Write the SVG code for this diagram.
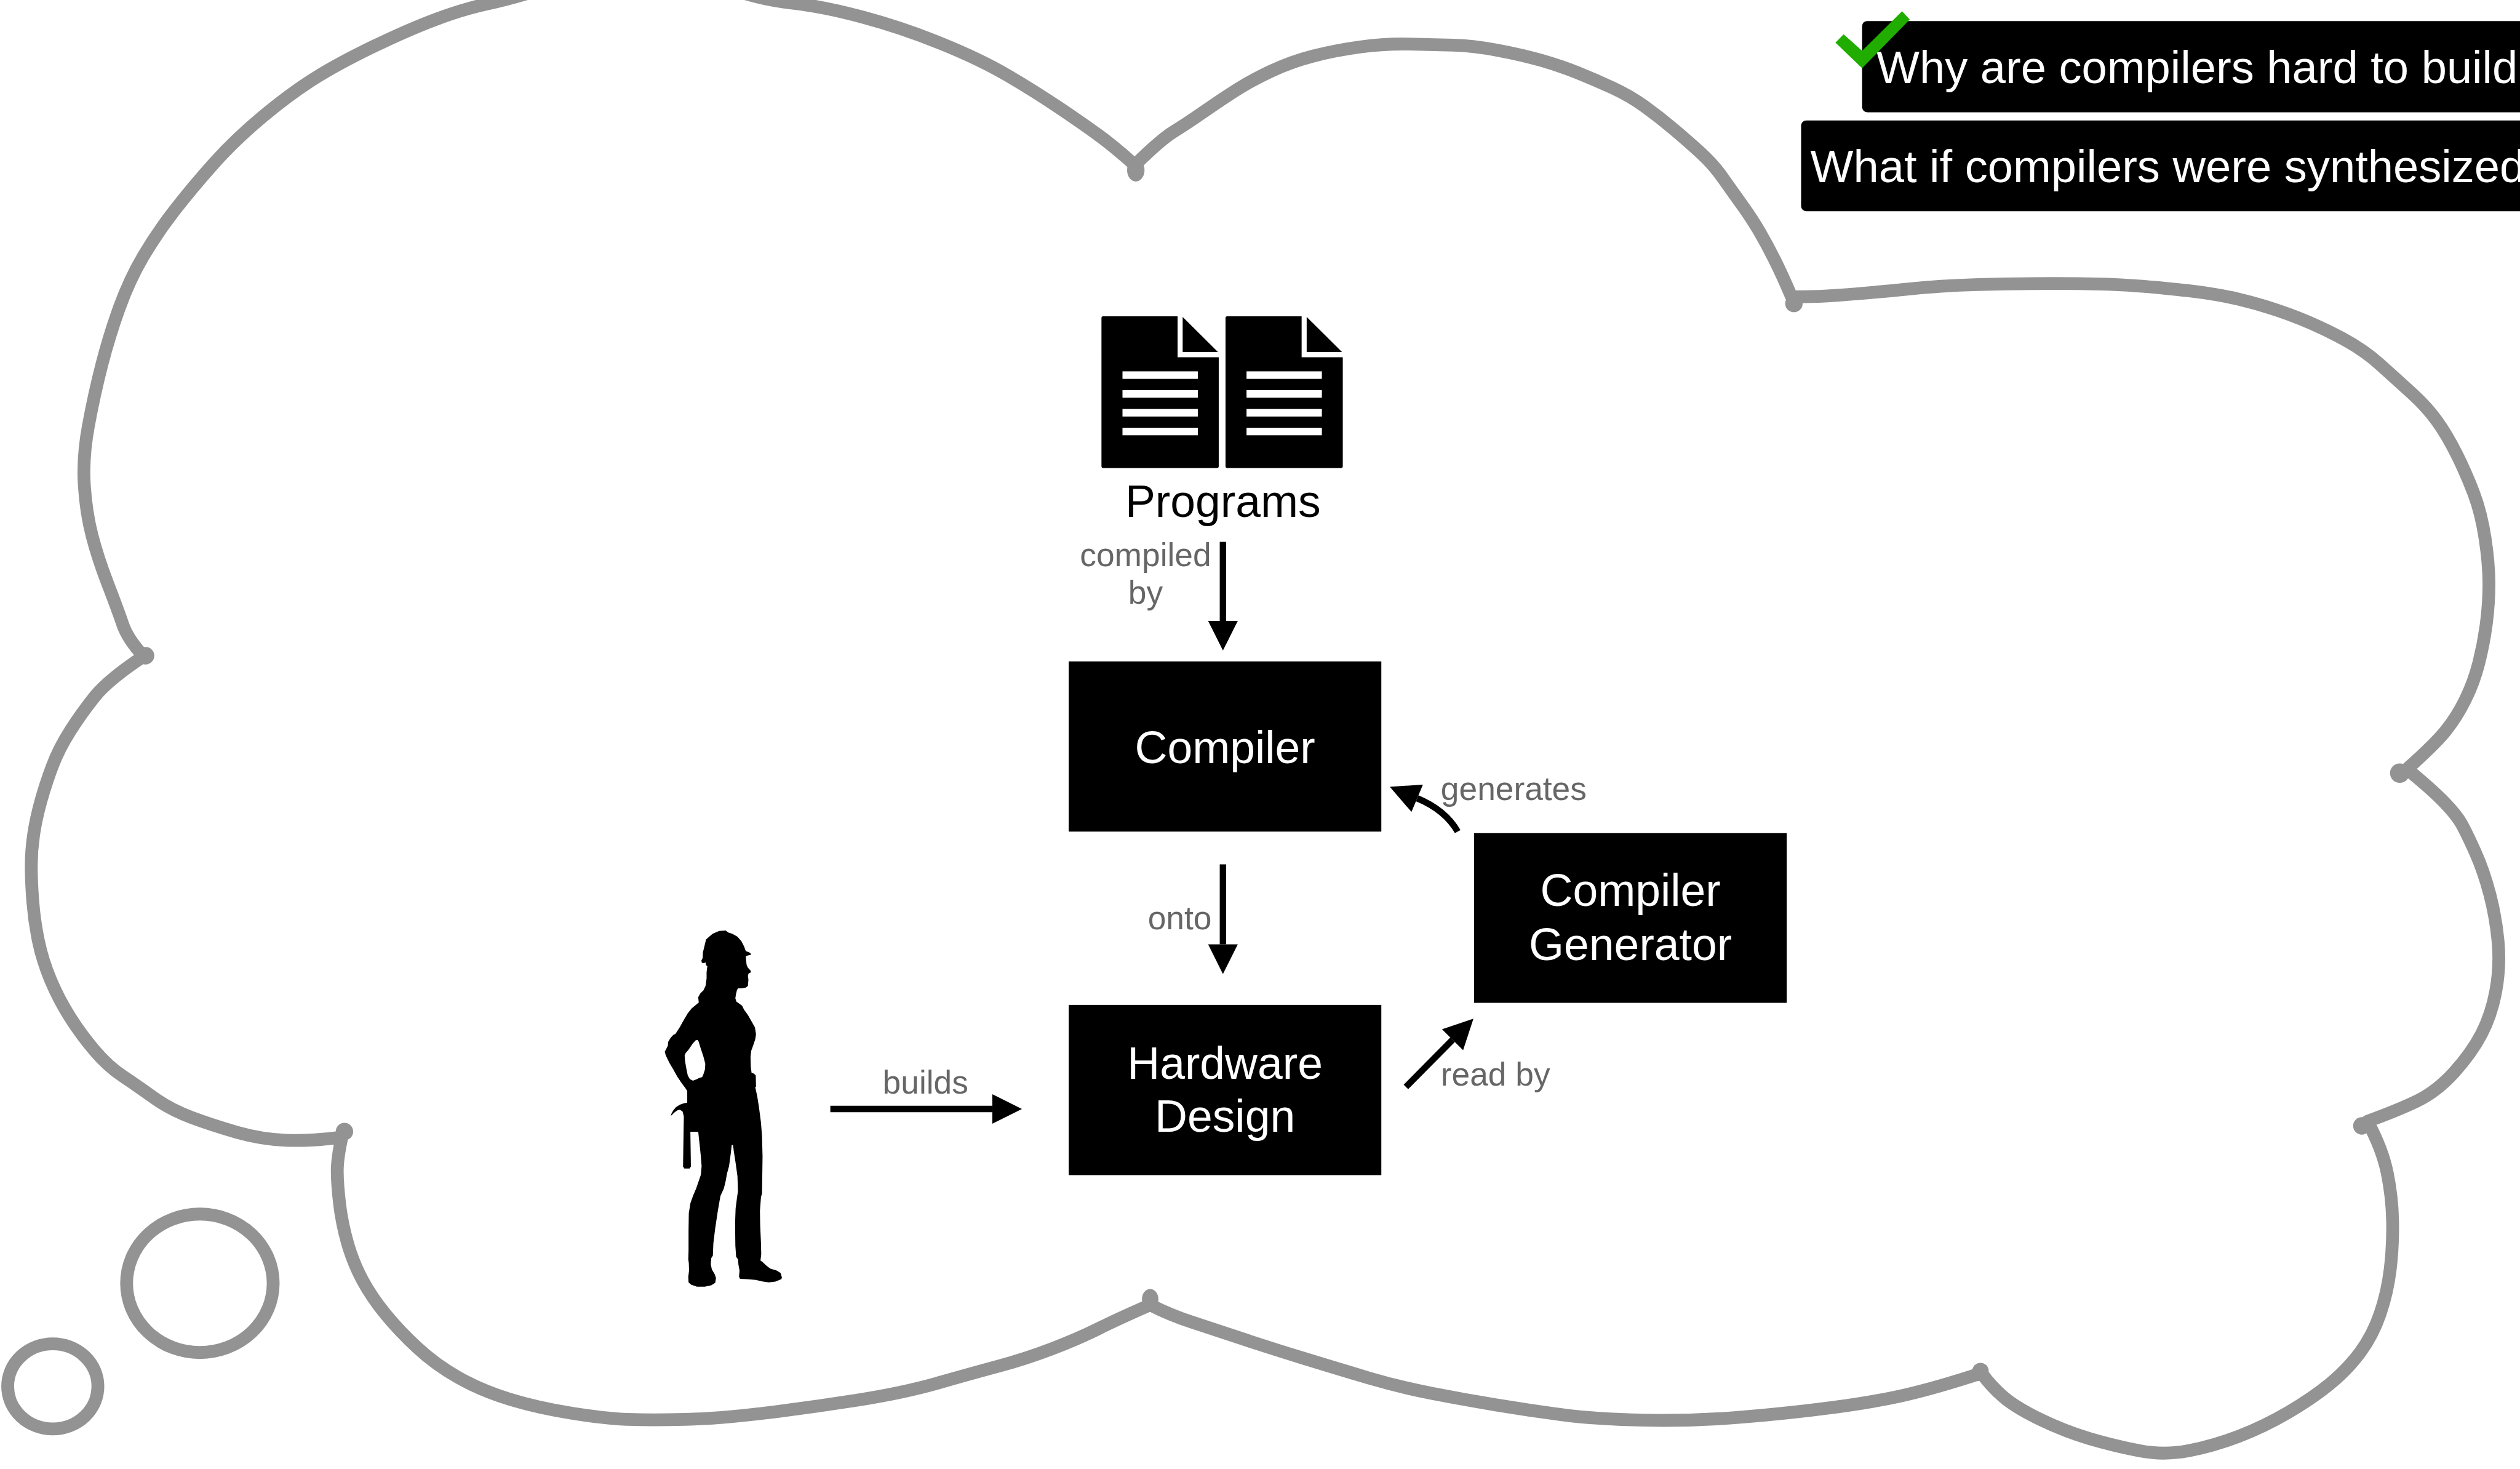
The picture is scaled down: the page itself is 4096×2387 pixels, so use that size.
<svg xmlns="http://www.w3.org/2000/svg" width="4096" height="2387" viewBox="0 0 4096 2387">
  <style>
    .cloud { fill: none; stroke: #939393; stroke-width: 25; stroke-linejoin: round; stroke-linecap: round; }
    .blob { fill: #939393; }
    .box { fill: #000; }
    .node-label { font-family: "Liberation Sans", Arial, Helvetica, sans-serif; font-size: 88px; fill: #fff; text-anchor: middle; }
    .title-label { font-family: "Liberation Sans", Arial, Helvetica, sans-serif; font-size: 88px; fill: #000; text-anchor: middle; }
    .edge-label { font-family: "Liberation Sans", Arial, Helvetica, sans-serif; font-size: 64px; fill: #666; }
    .question { font-family: "Liberation Sans", Arial, Helvetica, sans-serif; font-size: 89px; fill: #fff; }
    .edge { fill: none; stroke: #000; stroke-width: 12.5; }
  </style>
  <defs>
    <marker id="head" markerUnits="userSpaceOnUse" markerWidth="60" markerHeight="60" viewBox="0 -28 56 56" refX="0" refY="0" orient="auto" overflow="visible">
      <path d="M0,-27 L54,0 L0,27 Z" fill="#000"/>
    </marker>
    <g id="doc">
      <path d="M0,3 Q0,0 3,0 H148.5 V79.7 H228.8 V293 Q228.8,296 225.8,296 H3 Q0,296 0,293 Z" fill="#000"/>
      <path d="M158.4,1.3 L227.3,69.7 H158.4 Z" fill="#000"/>
      <g fill="#fff">
        <rect x="41" y="107.3" width="147" height="14.7"/>
        <rect x="41" y="144" width="147" height="14.7"/>
        <rect x="41" y="180.7" width="147" height="14.7"/>
        <rect x="41" y="217.3" width="147" height="14.7"/>
      </g>
    </g>
  </defs>

  <rect width="4096" height="2387" fill="#fff"/>

  <g transform="scale(0.8331)">
    <!-- thought cloud outline: one lobe per run between notches -->
    <g id="cloud">
      <path class="cloud" d="M280,1280 Q249,1246 239.5,1218 Q230,1190 210.5,1139.5 Q191,1089 179.5,1044.5 Q168,1000 164.5,946.5 Q161,893 172.5,830.5 Q184,768 199,710 Q214,652 233.5,598.5 Q253,545 279.5,500 Q306,455 340.5,410.5 Q375,366 417,319 Q459,272 512.5,227.5 Q566,183 612,154 Q658,125 727,91.5 Q796,58 849.5,38 Q903,18 949,8 Q995,-2 1047.5,-18.5 Q1100,-35 1175,-42.5 Q1250,-50 1325,-40 Q1400,-30 1446,-15 Q1492,0 1549.5,6.5 Q1607,13 1683.5,33.5 Q1760,54 1836.5,85 Q1913,116 1966.5,147.5 Q2020,179 2066,210 Q2112,241 2143,263.5 Q2174,286 2214,322
        Q2265,272 2289.5,257 Q2314,242 2350,217 Q2386,192 2414.5,174 Q2443,156 2481.5,138 Q2520,120 2563,109 Q2606,98 2654,91.5 Q2702,85 2749.5,86 Q2797,87 2835.5,88 Q2874,89 2922,98 Q2970,107 3008,118 Q3046,129 3079.5,142.5 Q3113,156 3146.5,171.5 Q3180,187 3208.5,207.5 Q3237,228 3266,252.5 Q3295,277 3319,299 Q3343,321 3362,348 Q3381,375 3400,401.5 Q3419,428 3433.5,453 Q3448,478 3462.5,507 Q3477,536 3495,578
        Q3526,580 3584,576 Q3642,572 3714.5,564.5 Q3787,557 3859.5,555 Q3932,553 4004.5,553 Q4077,553 4125.5,555 Q4174,557 4246.5,564.5 Q4319,572 4367.5,583.5 Q4416,595 4464,612.5 Q4512,630 4560.5,655 Q4609,680 4643,710.5 Q4677,741 4706,767.5 Q4735,794 4754.5,821 Q4774,848 4793,886 Q4812,924 4826.5,962.5 Q4841,1001 4848.5,1050.5 Q4856,1100 4856,1138.5 Q4856,1177 4851,1215.5 Q4846,1254 4836.5,1292 Q4827,1330 4810,1364.5 Q4793,1399 4771.5,1425.5 Q4750,1452 4696,1500
        Q4745,1540 4769,1565 Q4793,1590 4802.5,1607 Q4812,1624 4829,1661.5 Q4846,1699 4858,1745.5 Q4870,1792 4874,1839 Q4878,1886 4869.5,1932.5 Q4861,1979 4841.5,2016.5 Q4822,2054 4788,2091.5 Q4754,2129 4715.5,2147.5 Q4677,2166 4619,2187
        Q4648,2241 4657.5,2287.5 Q4667,2334 4668,2381 Q4669,2428 4663.5,2474.5 Q4658,2521 4643.5,2563 Q4629,2605 4604.5,2638 Q4580,2671 4546,2699 Q4512,2727 4464,2755 Q4416,2783 4367.5,2801.5 Q4319,2820 4270.5,2829.5 Q4222,2839 4173.5,2829.5 Q4125,2820 4077,2806 Q4029,2792 3980.5,2768.5 Q3932,2745 3908,2724 Q3884,2703 3866,2678
        Q3780,2706 3720,2720 Q3660,2734 3577,2745 Q3494,2756 3398.5,2764 Q3303,2772 3207.5,2770 Q3112,2768 3048,2759.5 Q2984,2751 2920.5,2740.5 Q2857,2730 2793,2717.5 Q2729,2705 2671.5,2688 Q2614,2671 2544,2649.5 Q2474,2628 2423,2611 Q2372,2594 2327.5,2579.5 Q2283,2565 2244,2545
        Q2180,2573 2142,2592 Q2104,2611 2053,2630.5 Q2002,2650 1948.5,2664.5 Q1895,2679 1828,2698 Q1761,2717 1671.5,2731 Q1582,2745 1493,2756 Q1404,2767 1337,2768.5 Q1270,2770 1225,2768.5 Q1180,2767 1113,2756 Q1046,2745 992.5,2728.5 Q939,2712 894.5,2687 Q850,2662 814.5,2629 Q779,2596 752,2563 Q725,2530 707,2496.5 Q689,2463 678,2424.5 Q667,2386 662.5,2347.5 Q658,2309 658,2284 Q658,2259 667,2218
        Q606,2226 558,2224 Q510,2222 462.5,2208.5 Q415,2195 373.5,2179.5 Q332,2164 300,2141 Q268,2118 239.5,2099 Q211,2080 185,2049.5 Q159,2019 137,1984.5 Q115,1950 99,1912 Q83,1874 75,1835.5 Q67,1797 64,1758.5 Q61,1720 61,1689.5 Q61,1659 65.5,1628.5 Q70,1598 79.5,1563.5 Q89,1529 102,1494.5 Q115,1460 137,1425.5 Q159,1391 185,1358.5 Q211,1326 280,1280 Z"/>
      <!-- ink pooling at the notches -->
      <ellipse class="blob" cx="2216" cy="332" rx="17" ry="22"/>
      <circle class="blob" cx="3500" cy="592" r="17"/>
      <circle class="blob" cx="4682" cy="1508" r="19"/>
      <circle class="blob" cx="4608" cy="2196" r="17"/>
      <circle class="blob" cx="3864" cy="2674" r="16"/>
      <ellipse class="blob" cx="2244" cy="2534" rx="16" ry="20"/>
      <circle class="blob" cx="672" cy="2207" r="17"/>
      <circle class="blob" cx="284" cy="1279" r="17"/>
      <!-- trailing bubbles -->
      <ellipse class="cloud" cx="390" cy="2503" rx="143" ry="135"/>
      <ellipse class="cloud" cx="103" cy="2704" rx="88" ry="83"/>
    </g>

    <!-- question banners -->
    <g id="question-hard">
      <rect class="box" x="3633" y="41" width="1320" height="178" rx="10"/>
      <text class="question" x="3661" y="162">Why are compilers hard to build</text>
    </g>
    <g id="question-synth">
      <rect class="box" x="3514" y="235" width="1440" height="177" rx="10"/>
      <text class="question" x="3532" y="355">What if compilers were synthesized</text>
    </g>
    <g id="checkmark">
      <polygon points="3597,67 3633,99 3711,22 3726,38 3633,133 3581,83" fill="#20ad00"/>
    </g>

    <!-- nodes -->
    <g id="programs">
      <use href="#doc" x="2149" y="617"/>
      <use href="#doc" x="2391" y="617"/>
      <text class="title-label" x="2386" y="1008">Programs</text>
    </g>
    <g id="compiler">
      <rect class="box" x="2085" y="1290" width="610" height="332"/>
      <text class="node-label" x="2390" y="1488">Compiler</text>
    </g>
    <g id="compiler-generator">
      <rect class="box" x="2876" y="1625" width="610" height="331"/>
      <text class="node-label" x="3181" y="1767">Compiler</text>
      <text class="node-label" x="3181" y="1872">Generator</text>
    </g>
    <g id="hardware-design">
      <rect class="box" x="2085" y="1960" width="610" height="332"/>
      <text class="node-label" x="2390" y="2104">Hardware</text>
      <text class="node-label" x="2390" y="2207">Design</text>
    </g>
    <g id="engineer" transform="translate(1250 1780) scale(0.5102 0.4847)">
      <path fill="#000" fill-rule="evenodd" d="M238,160 L250,108 L275,85 L300,74 L325,72 L335,80 L350,85 L370,97 L385,115 L395,135 L402,155 L415,160 L423,167 L420,170 L404,174 L402,178 L403,190 L405,210 L410,222 L420,233 L422,240 L412,246 L410,255 L412,270 L410,295 L402,302 L385,305 L372,305 L368,312 L364,330 L362,345 L366,358 L375,365 L388,375 L395,390 L410,412 L425,440 L437,462 L441,490 L438,510 L430,535 L423,555 L420,580 L421,620 L424,645 L433,648 L440,655 L441,700 L438,703 L445,735 L452,780 L460,845 L464,900 L466,980 L465,1060 L464,1130 L460,1145 L456,1200 L457,1260 L460,1330 L461,1375 L458,1400 L465,1405 L480,1420 L495,1432 L520,1440 L535,1450 L540,1468 L538,1475 L515,1485 L490,1488 L465,1484 L440,1478 L405,1475 L380,1474 L376,1465 L378,1440 L374,1418 L372,1395 L365,1385 L362,1340 L361,1250 L363,1190 L368,1150 L372,1120 L370,1060 L362,1000 L356,960 L353,935 L348,935 L345,965 L338,1020 L330,1050 L325,1080 L318,1110 L305,1140 L295,1200 L285,1270 L278,1330 L276,1380 L270,1390 L268,1415 L272,1435 L283,1455 L288,1470 L285,1490 L270,1500 L245,1505 L215,1505 L193,1497 L183,1488 L182,1465 L185,1440 L184,1410 L182,1395 L183,1360 L183,1280 L184,1210 L190,1170 L200,1140 L212,1110 L222,1080 L230,1055 L233,1020 L230,980 L224,920 L220,882 L190,882 L192,1022 L187,1030 L167,1030 L162,1022 L163,950 L164,880 L165,820 L160,800 L150,793 L140,796 L128,805 L120,814 L115,818 L118,808 L125,795 L135,783 L150,773 L165,767 L178,765 L178,718 L170,705 L158,688 L140,660 L125,632 L110,605 L96,575 L92,560 L98,548 L104,535 L105,520 L115,503 L125,492 L133,488 L150,460 L165,432 L180,405 L195,385 L210,372 L222,362 L220,340 L228,325 L240,313 L248,295 L252,265 L252,240 L255,215 L250,212 L248,200 L242,203 L234,202 L232,193 L237,183 Z M183,552 L198,528 L210,514 L218,512 L222,520 L230,548 L240,580 L247,608 L246,630 L240,650 L235,662 L224,665 L215,670 L200,676 L188,670 L180,655 L175,630 L170,600 L168,575 L172,565 Z"/>
    </g>

    <!-- connectors -->
    <g id="connectors">
      <path class="edge" d="M2386,1057 V1211" marker-end="url(#head)"/>
      <text class="edge-label" x="2235" y="1104" text-anchor="middle">compiled</text>
      <text class="edge-label" x="2235" y="1177" text-anchor="middle">by</text>

      <path class="edge" d="M2386,1686 V1842" marker-end="url(#head)"/>
      <text class="edge-label" x="2364" y="1813" text-anchor="end">onto</text>

      <path class="edge" d="M2844,1622 Q2820,1580 2765,1557" marker-end="url(#head)"/>
      <text class="edge-label" x="2811" y="1561">generates</text>

      <path class="edge" d="M2743,2120 L2834,2028" marker-end="url(#head)"/>
      <text class="edge-label" x="2811" y="2117">read by</text>

      <path class="edge" d="M1620,2163 H1936" marker-end="url(#head)"/>
      <text class="edge-label" x="1722" y="2133">builds</text>
    </g>
  </g>
</svg>
